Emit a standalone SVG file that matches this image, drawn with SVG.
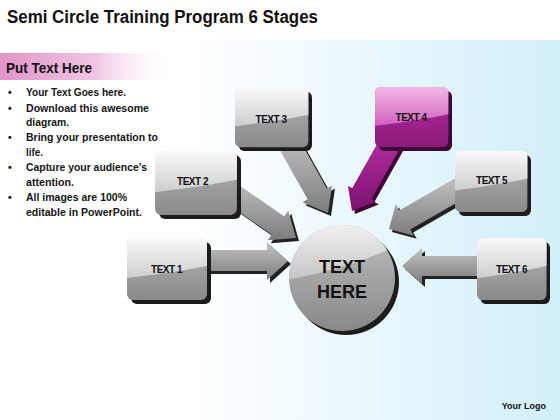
<svg xmlns="http://www.w3.org/2000/svg" xmlns:xlink="http://www.w3.org/1999/xlink" width="560" height="420" viewBox="0 0 560 420">
<defs>
<linearGradient id="gBg" x1="0" y1="0" x2="1" y2="0">
<stop offset="0" stop-color="#ffffff"/><stop offset="0.33" stop-color="#ffffff"/><stop offset="1" stop-color="#d2effa"/>
</linearGradient>
<linearGradient id="gPink" x1="0" y1="0" x2="1" y2="0">
<stop offset="0" stop-color="#e095c8"/><stop offset="0.55" stop-color="#f1c6e4"/><stop offset="1" stop-color="#ffffff" stop-opacity="0"/>
</linearGradient>
<linearGradient id="gBoxTop" x1="0" y1="0" x2="0" y2="1">
<stop offset="0" stop-color="#fafafa"/><stop offset="1" stop-color="#cdcdcd"/>
</linearGradient>
<linearGradient id="gBoxBot" x1="0" y1="0" x2="0" y2="1">
<stop offset="0" stop-color="#b6b6b6"/><stop offset="1" stop-color="#8a8a8a"/>
</linearGradient>
<linearGradient id="gMTop" x1="0" y1="0" x2="0" y2="1">
<stop offset="0" stop-color="#f2b8e6"/><stop offset="1" stop-color="#d060be"/>
</linearGradient>
<linearGradient id="gMBot" x1="0" y1="0" x2="0" y2="1">
<stop offset="0" stop-color="#b52ca0"/><stop offset="1" stop-color="#8c1a7a"/>
</linearGradient>
<linearGradient id="gArrow" x1="0" y1="0" x2="0" y2="1">
<stop offset="0" stop-color="#c4c4c4"/><stop offset="1" stop-color="#7c7c7c"/>
</linearGradient>
<linearGradient id="gArrowM" x1="0" y1="0" x2="0" y2="1">
<stop offset="0" stop-color="#b42ea0"/><stop offset="1" stop-color="#7c1270"/>
</linearGradient>
<linearGradient id="gCirc" x1="0" y1="0" x2="0" y2="1">
<stop offset="0" stop-color="#c0c0c0"/><stop offset="1" stop-color="#888888"/>
</linearGradient>
<linearGradient id="gCircTop" x1="0" y1="0" x2="0" y2="1">
<stop offset="0" stop-color="#f4f4f4"/><stop offset="1" stop-color="#c4c4c4"/>
</linearGradient>
<symbol id="box" viewBox="0 0 84 66" preserveAspectRatio="none">
<rect x="4" y="4" width="80" height="62" rx="6" fill="#1c1c1c"/>
<rect x="0" y="0" width="80" height="62" rx="6" fill="url(#gBoxBot)"/>
<path d="M0,6 Q0,0 6,0 H74 Q80,0 80,6 V28 C60,32 35,36 0,40 Z" fill="url(#gBoxTop)"/>
</symbol>
<symbol id="boxM" viewBox="0 0 84 66" preserveAspectRatio="none">
<rect x="4" y="4" width="80" height="62" rx="6" fill="#3d0836"/>
<rect x="0" y="0" width="80" height="62" rx="6" fill="url(#gMBot)"/>
<path d="M0,6 Q0,0 6,0 H74 Q80,0 80,6 V28 C60,32 35,36 0,40 Z" fill="url(#gMTop)"/>
</symbol>
<clipPath id="cpCirc"><circle cx="342" cy="278" r="53"/></clipPath>
</defs>
<style>
.t{font-family:"Liberation Sans",Arial,sans-serif;font-weight:bold;fill:#111}
.lbl{font-family:"Liberation Sans",Arial,sans-serif;font-weight:bold;font-size:10px;fill:#111;text-anchor:middle;letter-spacing:-0.5px}
.b{font-family:"Liberation Sans",Arial,sans-serif;font-weight:bold;font-size:10.5px;fill:#151515}
.sh{fill:#222}
.ar{fill:url(#gArrow)}
</style>

<rect x="0" y="0" width="560" height="420" fill="#ffffff"/>
<rect x="0" y="40" width="560" height="380" fill="url(#gBg)"/>
<text class="t" x="7" y="23" font-size="18" textLength="311" lengthAdjust="spacingAndGlyphs">Semi Circle Training Program 6 Stages</text>

<g id="sidebar">
<rect x="0" y="53" width="175" height="27" fill="url(#gPink)"/>
<text class="t" x="6" y="73" font-size="14" textLength="86" lengthAdjust="spacingAndGlyphs" fill="#1a0a1a">Put Text Here</text>
<g class="b">
<text x="8" y="96">•</text><text x="26" y="96" textLength="100" lengthAdjust="spacingAndGlyphs">Your Text Goes here.</text>
<text x="8" y="111.5">•</text><text x="26" y="111.5" textLength="123" lengthAdjust="spacingAndGlyphs">Download this awesome</text>
<text x="26" y="126" textLength="43" lengthAdjust="spacingAndGlyphs">diagram.</text>
<text x="8" y="141">•</text><text x="26" y="141" textLength="132" lengthAdjust="spacingAndGlyphs">Bring your presentation to</text>
<text x="26" y="155.5" textLength="17" lengthAdjust="spacingAndGlyphs">life.</text>
<text x="8" y="170.5">•</text><text x="26" y="170.5" textLength="121" lengthAdjust="spacingAndGlyphs">Capture your audience’s</text>
<text x="26" y="185.5" textLength="48" lengthAdjust="spacingAndGlyphs">attention.</text>
<text x="8" y="200.5">•</text><text x="26" y="200.5" textLength="101" lengthAdjust="spacingAndGlyphs">All images are 100%</text>
<text x="26" y="215.5" textLength="116" lengthAdjust="spacingAndGlyphs">editable in PowerPoint.</text>
</g>
</g>

<g id="connectors">
<g transform="translate(3,3)" class="sh">
<polygon points="200,250 267,250 267,242 288,261 267,280 267,271 200,271"/>
<polygon points="211.7,193 271.7,234.5 267.7,240.3 296,238 288.3,210.7 284.3,216.5 224.3,175"/>
<polygon points="276.7,144.4 307.6,199.3 302.4,202.2 328,213 332,185.6 326.8,188.5 295.9,133.6"/>
<polygon points="400.8,146.8 371.4,199 375.7,201.4 352,211 347.9,185.8 352.2,188.2 381.6,136" fill="#3d0836"/>
<polygon points="472.8,193.6 410.2,229.6 413.7,235.7 389,229 395.7,204.3 399.2,210.4 461.8,174.4"/>
<polygon points="485,256 422,256 422,248 402,266 422,284 422,276 485,276"/>
</g>
<polygon class="ar" points="200,250 267,250 267,242 288,261 267,280 267,271 200,271"/>
<polygon class="ar" points="211.7,193 271.7,234.5 267.7,240.3 296,238 288.3,210.7 284.3,216.5 224.3,175"/>
<polygon class="ar" points="276.7,144.4 307.6,199.3 302.4,202.2 328,213 332,185.6 326.8,188.5 295.9,133.6"/>
<polygon fill="url(#gArrowM)" points="400.8,146.8 371.4,199 375.7,201.4 352,211 347.9,185.8 352.2,188.2 381.6,136"/>
<polygon class="ar" points="472.8,193.6 410.2,229.6 413.7,235.7 389,229 395.7,204.3 399.2,210.4 461.8,174.4"/>
<polygon class="ar" points="485,256 422,256 422,248 402,266 422,284 422,276 485,276"/>
</g>

<g id="node1"><use href="#box" x="127" y="238" width="84" height="66"/><text class="lbl" x="166.5" y="273">TEXT 1</text></g>
<g id="node2"><use href="#box" x="155" y="151" width="86" height="68"/><text class="lbl" x="192.5" y="184.5">TEXT 2</text></g>
<g id="node3"><use href="#box" x="235" y="88" width="77" height="63"/><text class="lbl" x="271" y="123">TEXT 3</text></g>
<g id="node4"><use href="#boxM" x="375" y="87" width="77" height="64"/><text class="lbl" x="411" y="121">TEXT 4</text></g>
<g id="node5"><use href="#box" x="455" y="151" width="76" height="65"/><text class="lbl" x="491.5" y="184">TEXT 5</text></g>
<g id="node6"><use href="#box" x="477" y="238" width="73" height="66"/><text class="lbl" x="511.5" y="273">TEXT 6</text></g>

<g id="center">
<circle cx="346" cy="282" r="53" fill="#1c1c1c"/>
<circle cx="342" cy="278" r="53" fill="url(#gCirc)"/>
<path clip-path="url(#cpCirc)" d="M285,280 C320,274 360,264 400,244 V220 H285 Z" fill="url(#gCircTop)"/>
<text class="t" x="342" y="273" font-size="18" text-anchor="middle">TEXT</text>
<text class="t" x="342" y="298" font-size="18" text-anchor="middle">HERE</text>
</g>

<text class="t" x="546" y="409" font-size="9" text-anchor="end">Your Logo</text>
</svg>
